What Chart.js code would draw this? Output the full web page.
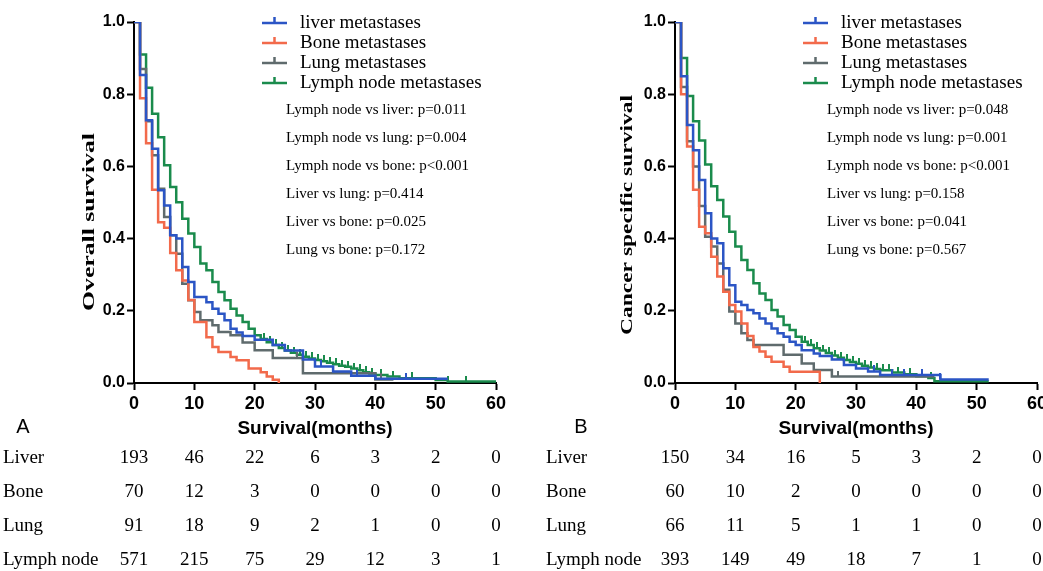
<!DOCTYPE html>
<html>
<head>
<meta charset="utf-8">
<script src="https://cdn.jsdelivr.net/npm/chart.js@4.4.1/dist/chart.umd.min.js"></script>
<style>
  html, body { margin: 0; padding: 0; background: #fff; overflow: hidden; width: 1043px; height: 571px; }
  #panelA { position: absolute; left: 0; top: 0; }
  #panelB { position: absolute; left: 521px; top: 0; }
</style>
</head>
<body>
<canvas id="panelA" width="521" height="571"></canvas>
<canvas id="panelB" width="540" height="571"></canvas>
<script>
const groups = ['Liver', 'Bone', 'Lung', 'Lymph node'];
const legendLabels = ['liver metastases', 'Bone metastases', 'Lung metastases', 'Lymph node metastases'];
const colors = ['#2B55C5', '#F26A4B', '#5F6B6D', '#1A8B4C'];
const riskMonths = [0, 10, 20, 30, 40, 50, 60];

// A: overall survival (months, survival probability)
const liverA_t = [0, 1, 2, 3, 4, 5, 6, 7, 8, 9, 10, 12, 13, 14, 15, 16, 17, 18, 20, 23, 25, 28, 30, 33, 36, 40, 52];
const liverA_s = [1, 0.853, 0.728, 0.649, 0.534, 0.492, 0.409, 0.4, 0.321, 0.28, 0.238, 0.224, 0.206, 0.192, 0.174, 0.15, 0.14, 0.13, 0.12, 0.105, 0.09, 0.065, 0.046, 0.032, 0.02, 0.012, 0.012];
const boneA_t = [0, 1, 2, 3, 4, 5, 6, 7, 8, 9, 10, 12, 13, 14, 16, 17, 19, 21, 22, 23, 24];
const boneA_s = [1, 0.789, 0.664, 0.535, 0.445, 0.43, 0.36, 0.312, 0.284, 0.23, 0.169, 0.127, 0.1, 0.086, 0.072, 0.063, 0.04, 0.03, 0.018, 0.009, 0];
const lungA_t = [0, 1, 2, 3, 4, 5, 6, 7, 8, 9, 10, 11, 13, 14, 16, 18, 20, 23, 28, 40, 43];
const lungA_s = [1, 0.87, 0.725, 0.631, 0.538, 0.46, 0.409, 0.358, 0.275, 0.229, 0.197, 0.174, 0.16, 0.141, 0.132, 0.112, 0.091, 0.069, 0.027, 0.01, 0.01];
const lymphA_t = [0, 1, 2, 3, 4, 5, 6, 7, 8, 9, 10, 11, 12, 13, 14, 15, 16, 17, 18, 19, 20, 21, 22, 23, 24, 25, 26, 27, 28, 29, 30, 31, 32, 33, 34, 35, 36, 37, 38, 39, 40, 42, 44, 50, 52, 60];
const lymphA_s = [1, 0.91, 0.818, 0.746, 0.681, 0.603, 0.543, 0.501, 0.455, 0.414, 0.377, 0.331, 0.312, 0.28, 0.252, 0.229, 0.206, 0.187, 0.169, 0.15, 0.132, 0.122, 0.113, 0.105, 0.097, 0.09, 0.084, 0.078, 0.073, 0.068, 0.064, 0.06, 0.056, 0.052, 0.048, 0.045, 0.04, 0.035, 0.03, 0.026, 0.022, 0.018, 0.013, 0.008, 0.004, 0.004];
const censA_liver = [31, 37, 45];
const censA_bone = [];
const censA_lung = [27, 41];
const censA_lymph = [21.5, 22.5, 23.5, 24.5, 25.5, 26.5, 27.5, 28.5, 29.5, 30.5, 31.5, 32.5, 33.5, 34.5, 35.5, 36.5, 37.5, 38.5, 39.5, 41, 43, 46, 52, 55];
const riskA_liver = [193, 46, 22, 6, 3, 2, 0];
const riskA_bone = [70, 12, 3, 0, 0, 0, 0];
const riskA_lung = [91, 18, 9, 2, 1, 0, 0];
const riskA_lymph = [571, 215, 75, 29, 12, 3, 1];
const pvalA = ['Lymph node vs liver: p=0.011', 'Lymph node vs lung: p=0.004', 'Lymph node vs bone: p<0.001',
  'Liver vs lung: p=0.414', 'Liver vs bone: p=0.025', 'Lung vs bone: p=0.172'];

// B: cancer specific survival
const liverB_t = [0, 1, 2, 3, 4, 5, 6, 7, 8, 9, 10, 11, 12, 13, 14, 15, 16, 17, 18, 19, 20, 21, 23, 24, 26, 28, 30, 32, 34, 44, 52];
const liverB_s = [1, 0.85, 0.715, 0.645, 0.562, 0.47, 0.4, 0.387, 0.318, 0.271, 0.225, 0.216, 0.202, 0.193, 0.179, 0.165, 0.151, 0.138, 0.128, 0.114, 0.105, 0.091, 0.082, 0.075, 0.065, 0.05, 0.04, 0.032, 0.022, 0.01, 0.01];
const boneB_t = [0, 1, 2, 3, 4, 5, 6, 7, 8, 9, 10, 11, 12, 13, 14, 15, 16, 18, 19, 24];
const boneB_s = [1, 0.8, 0.655, 0.535, 0.433, 0.415, 0.35, 0.295, 0.253, 0.216, 0.198, 0.165, 0.13, 0.1, 0.087, 0.073, 0.059, 0.045, 0.031, 0];
const lungB_t = [0, 1, 2, 3, 4, 5, 6, 7, 8, 9, 10, 11, 12, 13, 18, 21, 23, 26, 43];
const lungB_s = [1, 0.82, 0.67, 0.6, 0.49, 0.405, 0.378, 0.331, 0.258, 0.198, 0.165, 0.138, 0.119, 0.105, 0.078, 0.054, 0.036, 0.018, 0.018];
const lymphB_t = [0, 1, 2, 3, 4, 5, 6, 7, 8, 9, 10, 11, 12, 13, 14, 15, 16, 17, 18, 19, 20, 21, 22, 23, 24, 25, 26, 27, 28, 29, 30, 31, 32, 33, 34, 36, 38, 40, 42, 43, 52];
const lymphB_s = [1, 0.9, 0.795, 0.725, 0.672, 0.605, 0.545, 0.507, 0.461, 0.419, 0.378, 0.341, 0.313, 0.276, 0.248, 0.23, 0.202, 0.184, 0.161, 0.147, 0.128, 0.114, 0.105, 0.096, 0.09, 0.083, 0.076, 0.07, 0.064, 0.058, 0.053, 0.048, 0.043, 0.039, 0.035, 0.029, 0.024, 0.019, 0.014, 0.005, 0.005];
const censB_liver = [33, 36, 38, 41, 44];
const censB_bone = [];
const censB_lung = [27];
const censB_lymph = [21.5, 22.5, 23.5, 24.5, 25.5, 26.5, 27.5, 28.5, 29.5, 30.5, 31.5, 32.5, 33.5, 34.5, 35.5, 37, 39, 41, 42.5];
const riskB_liver = [150, 34, 16, 5, 3, 2, 0];
const riskB_bone = [60, 10, 2, 0, 0, 0, 0];
const riskB_lung = [66, 11, 5, 1, 1, 0, 0];
const riskB_lymph = [393, 149, 49, 18, 7, 1, 0];
const pvalB = ['Lymph node vs liver: p=0.048', 'Lymph node vs lung: p=0.001', 'Lymph node vs bone: p<0.001',
  'Liver vs lung: p=0.158', 'Liver vs bone: p=0.041', 'Lung vs bone: p=0.567'];

const SANS = '"Liberation Sans", Arial, sans-serif';
const SERIF = '"Liberation Serif", "Times New Roman", serif';

function stepAt(ts, ss, t) {
  let v = ss[0];
  for (let i = 0; i < ts.length; i++) if (ts[i] <= t) v = ss[i];
  return v;
}

// censor mark: small tick standing on the curve
function tickMark(color) {
  const c = document.createElement('canvas');
  c.width = 2; c.height = 12;
  const g = c.getContext('2d');
  g.fillStyle = color;
  g.fillRect(0, 0, 2, 6);
  return c;
}

function buildSets(curves, censors) {
  const sets = [];
  curves.forEach(([ts, ss], i) => {
    sets.push({
      label: legendLabels[i],
      data: ts.map((t, k) => ({ x: t, y: ss[k] })),
      borderColor: colors[i],
      borderWidth: 2.5,
      stepped: true,
      pointRadius: 0,
      fill: false,
      borderJoinStyle: 'miter'
    });
    sets.push({
      label: '',
      data: censors[i].map(t => ({ x: t, y: stepAt(ts, ss, t) })),
      showLine: false,
      pointStyle: tickMark(colors[i]),
      pointRadius: 3
    });
  });
  return sets;
}

const panelText = {
  id: 'panelText',
  afterDraw(chart, args, o) {
    const { ctx, chartArea: a } = chart;
    const xs = chart.scales.x;
    ctx.save();
    ctx.fillStyle = '#000';

    // y title, stretched along its length like the original
    ctx.save();
    ctx.font = 'bold 17px ' + SERIF;
    const w = ctx.measureText(o.yTitle).width;
    ctx.translate(o.yTitleX, o.yTitleY);
    ctx.rotate(-Math.PI / 2);
    ctx.scale(o.yTitleLen / w, 1);
    ctx.textAlign = 'center';
    ctx.textBaseline = 'middle';
    ctx.fillText(o.yTitle, 0, 0);
    ctx.restore();

    // legend
    ctx.textBaseline = 'middle';
    legendLabels.forEach((label, i) => {
      const y = a.top + 1 + i * 20;
      const x0 = a.left + 128;
      ctx.strokeStyle = colors[i];
      ctx.lineWidth = 2.5;
      ctx.beginPath();
      ctx.moveTo(x0, y); ctx.lineTo(x0 + 25, y);
      ctx.moveTo(x0 + 12.5, y); ctx.lineTo(x0 + 12.5, y - 6);
      ctx.stroke();
      ctx.font = '19px ' + SERIF;
      ctx.textAlign = 'left';
      ctx.fillText(label, a.left + 166, y);
    });

    // log-rank p values
    ctx.font = '15px ' + SERIF;
    o.pvalues.forEach((t, i) => ctx.fillText(t, a.left + 152, a.top + 88 + i * 28));

    // panel letter
    ctx.font = '20px ' + SANS;
    ctx.textAlign = 'center';
    ctx.fillText(o.letter, o.letterX, 427);

    // numbers at risk
    ctx.font = '19px ' + SERIF;
    o.risk.forEach((row, i) => {
      const y = 458 + i * 34;
      ctx.textAlign = 'left';
      ctx.fillText(groups[i], o.rowX, y);
      ctx.textAlign = 'center';
      row.forEach((n, k) => ctx.fillText(String(n), xs.getPixelForValue(riskMonths[k]), y));
    });
    ctx.restore();
  }
};

function axisCommon() {
  return {
    grid: { drawOnChartArea: false, drawTicks: true, tickLength: 7, tickColor: '#000', tickWidth: 2 },
    border: { color: '#000', width: 2 }
  };
}

function makeChart(id, sets, o) {
  return new Chart(document.getElementById(id), {
    type: 'line',
    data: { datasets: sets },
    options: {
      responsive: false,
      animation: false,
      events: [],
      layout: { padding: { left: 0, right: o.padRight, top: 22, bottom: 131 } },
      plugins: { legend: { display: false }, tooltip: { enabled: false }, panelText: o },
      scales: {
        x: {
          type: 'linear', min: 0, max: 60,
          afterFit: s => { s.height = 57; },
          ticks: { stepSize: 10, color: '#000', font: { family: SANS, size: 18, weight: 'bold' }, padding: 3, maxRotation: 0, autoSkip: false },
          title: { display: true, text: 'Survival(months)', color: '#000', font: { family: SANS, size: 19, weight: 'bold' }, padding: 0 },
          ...axisCommon()
        },
        y: {
          min: 0, max: 1,
          afterFit: s => { s.width = o.yWidth; },
          ticks: { stepSize: 0.2, color: '#000', font: { family: SANS, size: 16, weight: 'bold' }, padding: 2, callback: v => v.toFixed(1) },
          ...axisCommon()
        }
      }
    },
    plugins: [panelText]
  });
}

makeChart('panelA',
  buildSets([[liverA_t, liverA_s], [boneA_t, boneA_s], [lungA_t, lungA_s], [lymphA_t, lymphA_s]],
            [censA_liver, censA_bone, censA_lung, censA_lymph]),
  { yWidth: 134, padRight: 25, yTitle: 'Overall survival', yTitleX: 90, yTitleY: 222, yTitleLen: 178,
    pvalues: pvalA, letter: 'A', letterX: 23, rowX: 3,
    risk: [riskA_liver, riskA_bone, riskA_lung, riskA_lymph] });

makeChart('panelB',
  buildSets([[liverB_t, liverB_s], [boneB_t, boneB_s], [lungB_t, lungB_s], [lymphB_t, lymphB_s]],
            [censB_liver, censB_bone, censB_lung, censB_lymph]),
  { yWidth: 154, padRight: 24, yTitle: 'Cancer specific survival', yTitleX: 107, yTitleY: 215, yTitleLen: 240,
    pvalues: pvalB, letter: 'B', letterX: 60, rowX: 25,
    risk: [riskB_liver, riskB_bone, riskB_lung, riskB_lymph] });
</script>
</body>
</html>
